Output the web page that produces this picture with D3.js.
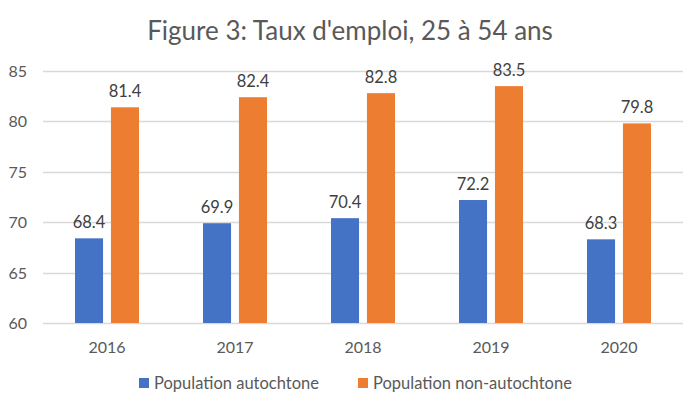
<!DOCTYPE html>
<html>
<head>
<meta charset="utf-8">
<script src="https://cdn.jsdelivr.net/npm/d3@7"></script>
<style>
  body { margin: 0; background: #fff; }
  svg { font-family: Lato, "Open Sans", sans-serif; }
</style>
</head>
<body>
<div id="chart"></div>
<script>
const years = ["2016", "2017", "2018", "2019", "2020"];
const autochtone = [68.4, 69.9, 70.4, 72.2, 68.3];
const nonAutochtone = [81.4, 82.4, 82.8, 83.5, 79.8];
const seriesNames = ["Population autochtone", "Population non-autochtone"];
const colors = ["#4472c4", "#ed7d31"];
const yTicks = [60, 65, 70, 75, 80, 85];

const width = 700, height = 406;
const margin = {top: 71, right: 17, bottom: 83, left: 43};

const svg = d3.select("#chart").append("svg")
  .attr("width", width)
  .attr("height", height);

// Title
svg.append("text")
  .attr("x", 350)
  .attr("y", 40)
  .attr("text-anchor", "middle")
  .style("font-size", "26px")
  .attr("fill", "#595959")
  .text("Figure 3: Taux d'emploi, 25 à 54 ans");

const x = d3.scaleBand()
  .domain(years)
  .range([margin.left, width - margin.right]);

const x1 = d3.scaleBand()
  .domain([0, 1])
  .range([32, 96])
  .paddingInner(0.22);

const y = d3.scaleLinear()
  .domain([60, 85])
  .range([height - margin.bottom, margin.top]);

// Gridlines
svg.append("g")
  .selectAll("line")
  .data(yTicks)
  .enter().append("line")
  .attr("x1", margin.left)
  .attr("x2", width - margin.right)
  .attr("y1", d => Math.round(y(d)) + 0.5)
  .attr("y2", d => Math.round(y(d)) + 0.5)
  .attr("stroke", "#d9d9d9")
  .attr("stroke-width", 1.3);

// Y axis labels
svg.append("g")
  .selectAll("text")
  .data(yTicks)
  .enter().append("text")
  .attr("x", 27)
  .attr("y", d => y(d) + 6)
  .attr("text-anchor", "end")
  .style("font-size", "16px")
  .attr("fill", "#595959")
  .text(d => d);

// X axis labels
svg.append("g")
  .selectAll("text")
  .data(years)
  .enter().append("text")
  .attr("x", d => x(d) + x.bandwidth() / 2)
  .attr("y", 353)
  .attr("text-anchor", "middle")
  .style("font-size", "16px")
  .attr("fill", "#595959")
  .text(d => d);

const groups = [autochtone, nonAutochtone];
groups.forEach((vals, s) => {
  svg.append("g")
    .selectAll("rect")
    .data(vals)
    .enter().append("rect")
    .attr("x", (d, i) => x(years[i]) + x1(s))
    .attr("width", x1.bandwidth())
    .attr("y", d => y(d))
    .attr("height", d => y(60) - y(d))
    .attr("fill", colors[s]);

  svg.append("g")
    .selectAll("text")
    .data(vals)
    .enter().append("text")
    .attr("x", (d, i) => x(years[i]) + x1(s) + x1.bandwidth() / 2)
    .attr("y", d => y(d) - 10)
    .attr("text-anchor", "middle")
    .style("font-size", "16.5px")
    .attr("fill", "#404040")
    .text(d => d.toFixed(1));
});

// Legend
const legendX = [139, 358];
seriesNames.forEach((name, s) => {
  svg.append("rect")
    .attr("x", legendX[s])
    .attr("y", 378)
    .attr("width", 10)
    .attr("height", 10)
    .attr("fill", colors[s]);
  svg.append("text")
    .attr("x", legendX[s] + 15)
    .attr("y", 389)
    .style("font-size", "16.5px")
    .attr("fill", "#595959")
    .text(name);
});
</script>
</body>
</html>
